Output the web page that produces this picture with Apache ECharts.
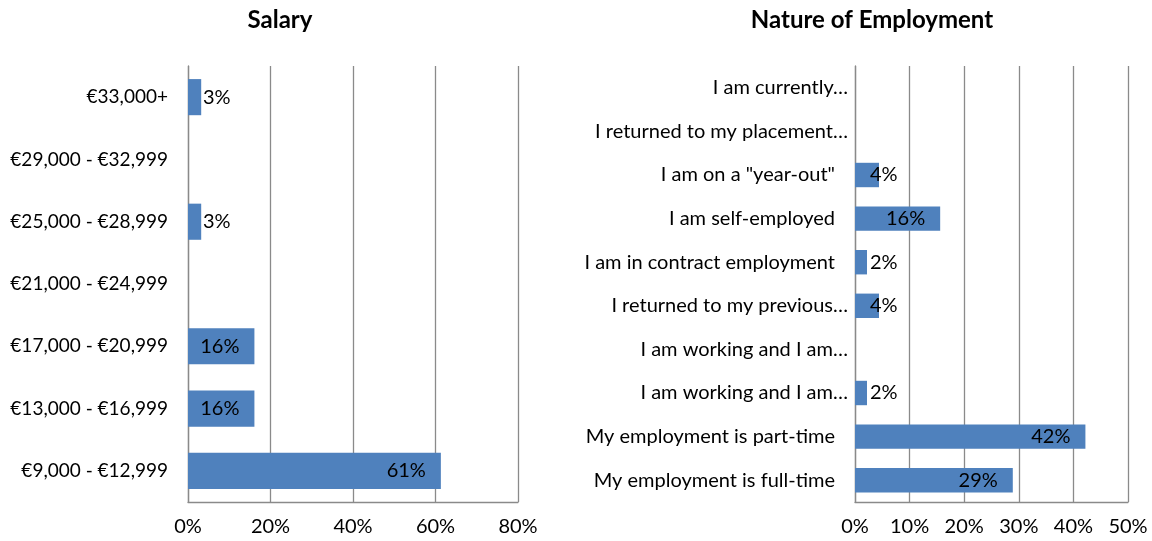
<!DOCTYPE html>
<html><head><meta charset="utf-8">
<script src="https://cdn.jsdelivr.net/npm/echarts@6/dist/echarts.min.js"></script>
<style>html,body{margin:0;padding:0;background:#fff}#c{width:1152px;height:541px}</style>
</head><body><div id="c"></div>
<script>
const salaryCategories = ['€9,000 - €12,999','€13,000 - €16,999','€17,000 - €20,999','€21,000 - €24,999','€25,000 - €28,999','€29,000 - €32,999','€33,000+'];
const salaryValues = [61.3, 16.1, 16.1, 0, 3.2, 0, 3.2];
const natureCategories = ['My employment is full-time','My employment is part-time','I am working and I am…','I am working and I am…','I returned to my previous…','I am in contract employment','I am self-employed','I am on a "year-out"','I returned to my placement…','I am currently…'];
const natureValues = [28.9, 42.2, 2.2, 0, 4.4, 2.2, 15.6, 4.4, 0, 0];
const salaryTicks = {min: 0, max: 80, interval: 20};
const natureTicks = {min: 0, max: 50, interval: 10};

const FONT = 'Lato';
const FS = 20;
const gridColor = '#8a8a8a';

function buildData(values, smallLimit) {
  return values.map(v => {
    if (v === 0) return {value: v, label: {show: false}};
    if (v < smallLimit) return {value: v, label: {position: 'insideLeft', distance: 15}};
    return {value: v};
  });
}

const chart = echarts.init(document.getElementById('c'), null, {renderer: 'canvas'});
const catAxis = (gi, cats, margin, padEllipsis, fs) => ({
  type: 'category', gridIndex: gi, data: cats,
  axisLine: {show: true, lineStyle: {color: gridColor, width: 1.3}},
  axisTick: {show: false},
  axisLabel: {
    color: '#000', fontFamily: FONT, fontSize: fs, margin: margin,
    formatter: v => (padEllipsis && !v.endsWith('…')) ? '{p|' + v + '}' : '{n|' + v + '}',
    rich: {
      p: {fontFamily: FONT, fontSize: fs, color: '#000', padding: [0, padEllipsis, 0, 0]},
      n: {fontFamily: FONT, fontSize: fs, color: '#000'}
    }
  },
  splitLine: {show: false}
});
const valAxis = (gi, t) => ({
  type: 'value', gridIndex: gi, min: t.min, max: t.max, interval: t.interval,
  axisLine: {show: true, lineStyle: {color: gridColor, width: 1.3}},
  axisTick: {show: false},
  axisLabel: {color: '#000', fontFamily: FONT, fontSize: FS, margin: 15, formatter: '{value}%'},
  splitLine: {show: true, lineStyle: {color: gridColor, width: 1.3}}
});
const labelCfg = {
  show: true, position: 'insideRight', distance: 15, color: '#000',
  fontFamily: FONT, fontSize: FS,
  formatter: p => Math.round(p.value) + '%'
};
const titleStyle = {fontFamily: FONT, fontSize: 24, fontWeight: 'bold', color: '#000'};
chart.setOption({
  animation: false,
  title: [
    {text: 'Salary', left: 275, top: 3, textAlign: 'center', textStyle: titleStyle},
    {text: 'Nature of Employment', left: 867, top: 3, textAlign: 'center', textStyle: titleStyle}
  ],
  grid: [
    {left: 188, right: 1152 - 518, top: 66, bottom: 39},
    {left: 855, right: 1152 - 1128, top: 66, bottom: 39}
  ],
  xAxis: [valAxis(0, salaryTicks), valAxis(1, natureTicks)],
  yAxis: [catAxis(0, salaryCategories, 20, 0, 19), catAxis(1, natureCategories, 7, 13, FS)],
  series: [
    {type: 'bar', xAxisIndex: 0, yAxisIndex: 0, data: buildData(salaryValues, 10),
     barCategoryGap: '42%', itemStyle: {color: '#4F81BD'}, label: labelCfg},
    {type: 'bar', xAxisIndex: 1, yAxisIndex: 1, data: buildData(natureValues, 8),
     barCategoryGap: '44%', itemStyle: {color: '#4F81BD'}, label: labelCfg}
  ]
});
</script></body></html>
